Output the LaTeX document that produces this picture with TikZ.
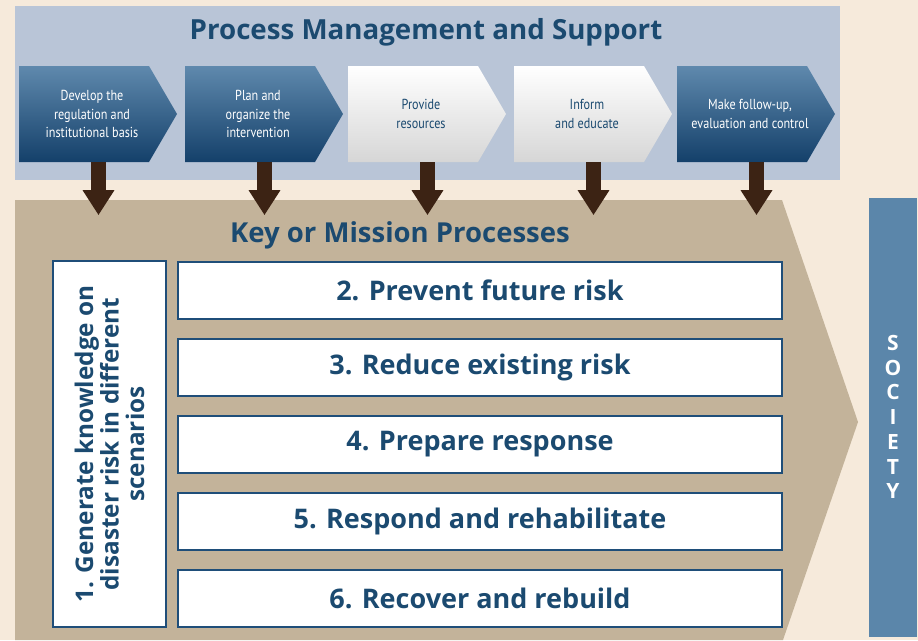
\documentclass[tikz,border=0pt]{standalone}
\usepackage{fontspec}
\setmainfont{Open Sans}
\newfontfamily\condfont[FakeStretch=0.84]{PT Sans}
\usetikzlibrary{arrows.meta}
\definecolor{cream}{HTML}{F6EADB}
\definecolor{panelblue}{HTML}{B9C5D7}
\definecolor{titleblue}{HTML}{1B4A70}
\definecolor{chevtop}{HTML}{5F89AD}
\definecolor{chevbot}{HTML}{14406A}
\definecolor{chevgray}{HTML}{D6D6D6}
\definecolor{tan}{HTML}{C3B39A}
\definecolor{arrowbrown}{HTML}{3C2314}
\definecolor{boxblue}{HTML}{1F4E79}
\definecolor{society}{HTML}{5B86AA}

\begin{document}
\begin{tikzpicture}[x=1pt, y=-1pt,
  chevtext/.style={minimum height=96pt, inner sep=0pt, align=center, font=\condfont\fontsize{14.5}{18.5}\selectfont},
  bluechev/.style={top color=chevtop, bottom color=chevbot},
  whitechev/.style={top color=white, bottom color=chevgray},
  downarrow/.style={draw=arrowbrown, line width=15pt, -{Triangle[width=30pt,length=25pt]}},
  stepbox/.style={draw=boxblue, line width=1.2pt, fill=white, minimum width=604pt, minimum height=57pt, text=titleblue, font=\bfseries\fontsize{27}{30}\selectfont},
]
% background
\fill[cream] (0,0) rectangle (918,640);
\useasboundingbox (0,0) rectangle (918,640);
% support panel
\fill[panelblue] (15,6) rectangle (840,180);
\node[text=titleblue, font=\bfseries\fontsize{27.7}{32}\selectfont] (support) at (426,32) {Process Management and Support};
% mission processes block
\fill[tan] (15,200) -- (782,200) -- (858,422) -- (783,640) -- (15,640) -- cycle;
\node[text=titleblue, font=\bfseries\fontsize{27.5}{30}\selectfont] (mission) at (400,235) {Key or Mission Processes};
% support chevrons and arrows down
\foreach \x/\sty/\tc/\txt [count=\i] in {
  19/bluechev/white/{Develop the\\regulation and\\institutional basis},
  185/bluechev/white/{Plan and\\organize the\\intervention},
  348/whitechev/titleblue/{Provide\\resources},
  514/whitechev/titleblue/{Inform\\and educate},
  677/bluechev/white/{Make follow-up,\\evaluation and control}} {
  \shade[\sty] (\x,66) -- ++(130,0) -- ++(28,48) -- ++(-28,48) -- ++(-130,0) -- cycle;
  \node[chevtext, text=\tc] (ch\i) at (\x+73,114) {\txt};
  \draw[downarrow] ([xshift=6.5pt]ch\i.south) -- ++(0,53);
}
% knowledge box
\node[draw=boxblue, line width=1.2pt, fill=white, rotate=90, minimum width=366pt, minimum height=113pt, align=center, text=titleblue, font=\bfseries\fontsize{24.3}{25.5}\selectfont] (gen) at (109.5,444) {1. Generate knowledge on\\disaster risk in different\\scenarios};
% process boxes
\foreach \txt [count=\i from 2] in {Prevent future risk, Reduce existing risk, Prepare response, Respond and rehabilitate, Recover and rebuild}
  \node[stepbox] (p\i) at (480,290.5+77*\i-154) {\i. \txt};
% society bar
\node[fill=society, minimum width=48pt, minimum height=439pt, inner sep=0pt, align=center, text=white, font=\bfseries\fontsize{21}{24.7}\selectfont] (soc) at (893,417) {S\\O\\C\\I\\E\\T\\Y};
\end{tikzpicture}
\end{document}
